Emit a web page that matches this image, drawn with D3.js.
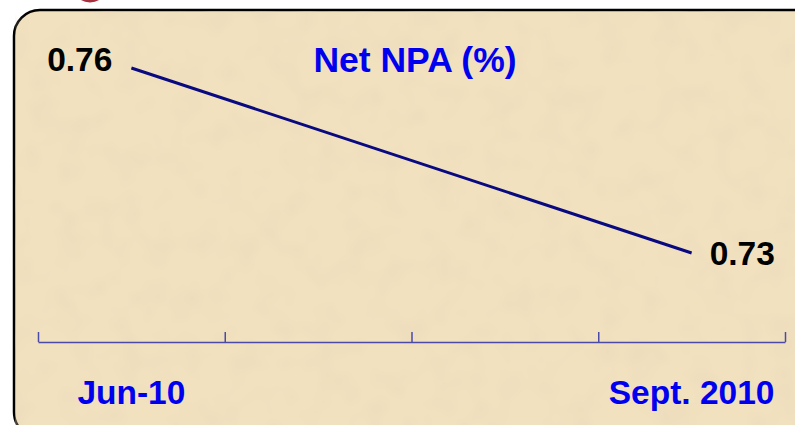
<!DOCTYPE html>
<html>
<head>
<meta charset="utf-8">
<script src="https://cdn.jsdelivr.net/npm/d3@7"></script>
<style>
  body { margin: 0; background: #fff; }
  svg { display: block; }
</style>
</head>
<body>
<div id="chart"></div>
<script>
// chart data
const categories = ["Jun-10", "", "", "Sept. 2010"];
const values = [0.76, null, null, 0.73];
const valueLabels = ["0.76", "", "", "0.73"];
const chartTitle = "Net NPA (%)";

function init() {
    let w = 795;
    let h = 425;

    let svg = d3.select("#chart")
        .append("svg")
        .attr("width", w)
        .attr("height", h);

    let defs = svg.append("defs");

    // parchment texture
    let filter = defs.append("filter")
        .attr("id", "paper")
        .attr("x", 0).attr("y", 0)
        .attr("width", "100%").attr("height", "100%");
    filter.append("feTurbulence")
        .attr("type", "fractalNoise")
        .attr("baseFrequency", "0.035")
        .attr("numOctaves", 2)
        .attr("seed", 7);
    filter.append("feColorMatrix")
        .attr("type", "matrix")
        .attr("values", "0 0 0 0 0.80  0 0 0 0 0.68  0 0 0 0 0.48  0 0 0 -0.9 0.5");

    // red blob peeking at the top
    svg.append("ellipse")
        .attr("cx", 90)
        .attr("cy", -8)
        .attr("rx", 14)
        .attr("ry", 10.5)
        .attr("fill", "#a8303c");

    // panel
    svg.append("rect")
        .attr("x", 14)
        .attr("y", 10)
        .attr("width", 810)
        .attr("height", 428)
        .attr("rx", 26)
        .attr("fill", "#f1e1bf")
        .attr("stroke", "black")
        .attr("stroke-width", 2.5);

    svg.append("rect")
        .attr("x", 15.5)
        .attr("y", 11.5)
        .attr("width", 806)
        .attr("height", 425)
        .attr("rx", 25)
        .attr("filter", "url(#paper)");

    // scales
    let x = d3.scaleLinear()
        .domain([0, categories.length])
        .range([38, 785]);

    let y = d3.scaleLinear()
        .domain([0.73, 0.76])
        .range([253, 68]);

    let pts = values
        .map(function (v, i) { return { i: i, v: v, label: valueLabels[i] }; })
        .filter(function (d) { return d.v !== null; });

    // axis with ticks at category boundaries
    let axis = d3.axisTop(x)
        .tickValues(d3.range(categories.length + 1))
        .tickSize(10)
        .tickSizeOuter(0)
        .tickFormat("");

    let gAxis = svg.append("g")
        .attr("transform", "translate(0,342)")
        .call(axis);
    gAxis.selectAll("path, line")
        .attr("stroke", "#4a4aa8")
        .attr("stroke-width", 1.5);

    // category labels
    svg.selectAll(".cat")
        .data(categories)
        .enter()
        .append("text")
        .attr("class", "cat")
        .attr("x", function (d, i) { return x(i + 0.5); })
        .attr("y", 404)
        .attr("text-anchor", "middle")
        .attr("font-family", "Liberation Sans, Arial, sans-serif")
        .attr("font-weight", "bold")
        .attr("font-size", 33.5)
        .attr("fill", "#0000ee")
        .text(function (d) { return d; });

    // line
    let line = d3.line()
        .x(function (d) { return x(d.i + 0.5); })
        .y(function (d) { return y(d.v); });

    svg.append("path")
        .datum(pts)
        .attr("d", line)
        .attr("fill", "none")
        .attr("stroke", "#0a0a80")
        .attr("stroke-width", 3);

    // value labels
    svg.selectAll(".val")
        .data(pts)
        .enter()
        .append("text")
        .attr("class", "val")
        .attr("x", function (d, k) { return k === 0 ? x(d.i + 0.5) - 19 : x(d.i + 0.5) + 18; })
        .attr("y", function (d, k) { return k === 0 ? y(d.v) + 3 : y(d.v) + 12; })
        .attr("text-anchor", function (d, k) { return k === 0 ? "end" : "start"; })
        .attr("font-family", "Liberation Sans, Arial, sans-serif")
        .attr("font-weight", "bold")
        .attr("font-size", 33.5)
        .attr("fill", "black")
        .text(function (d) { return d.label; });

    // title
    svg.append("text")
        .attr("x", 415)
        .attr("y", 72)
        .attr("text-anchor", "middle")
        .attr("font-family", "Liberation Sans, Arial, sans-serif")
        .attr("font-weight", "bold")
        .attr("font-size", 35.5)
        .attr("fill", "#0000ee")
        .text(chartTitle);
}

window.onload = init;
</script>
</body>
</html>
